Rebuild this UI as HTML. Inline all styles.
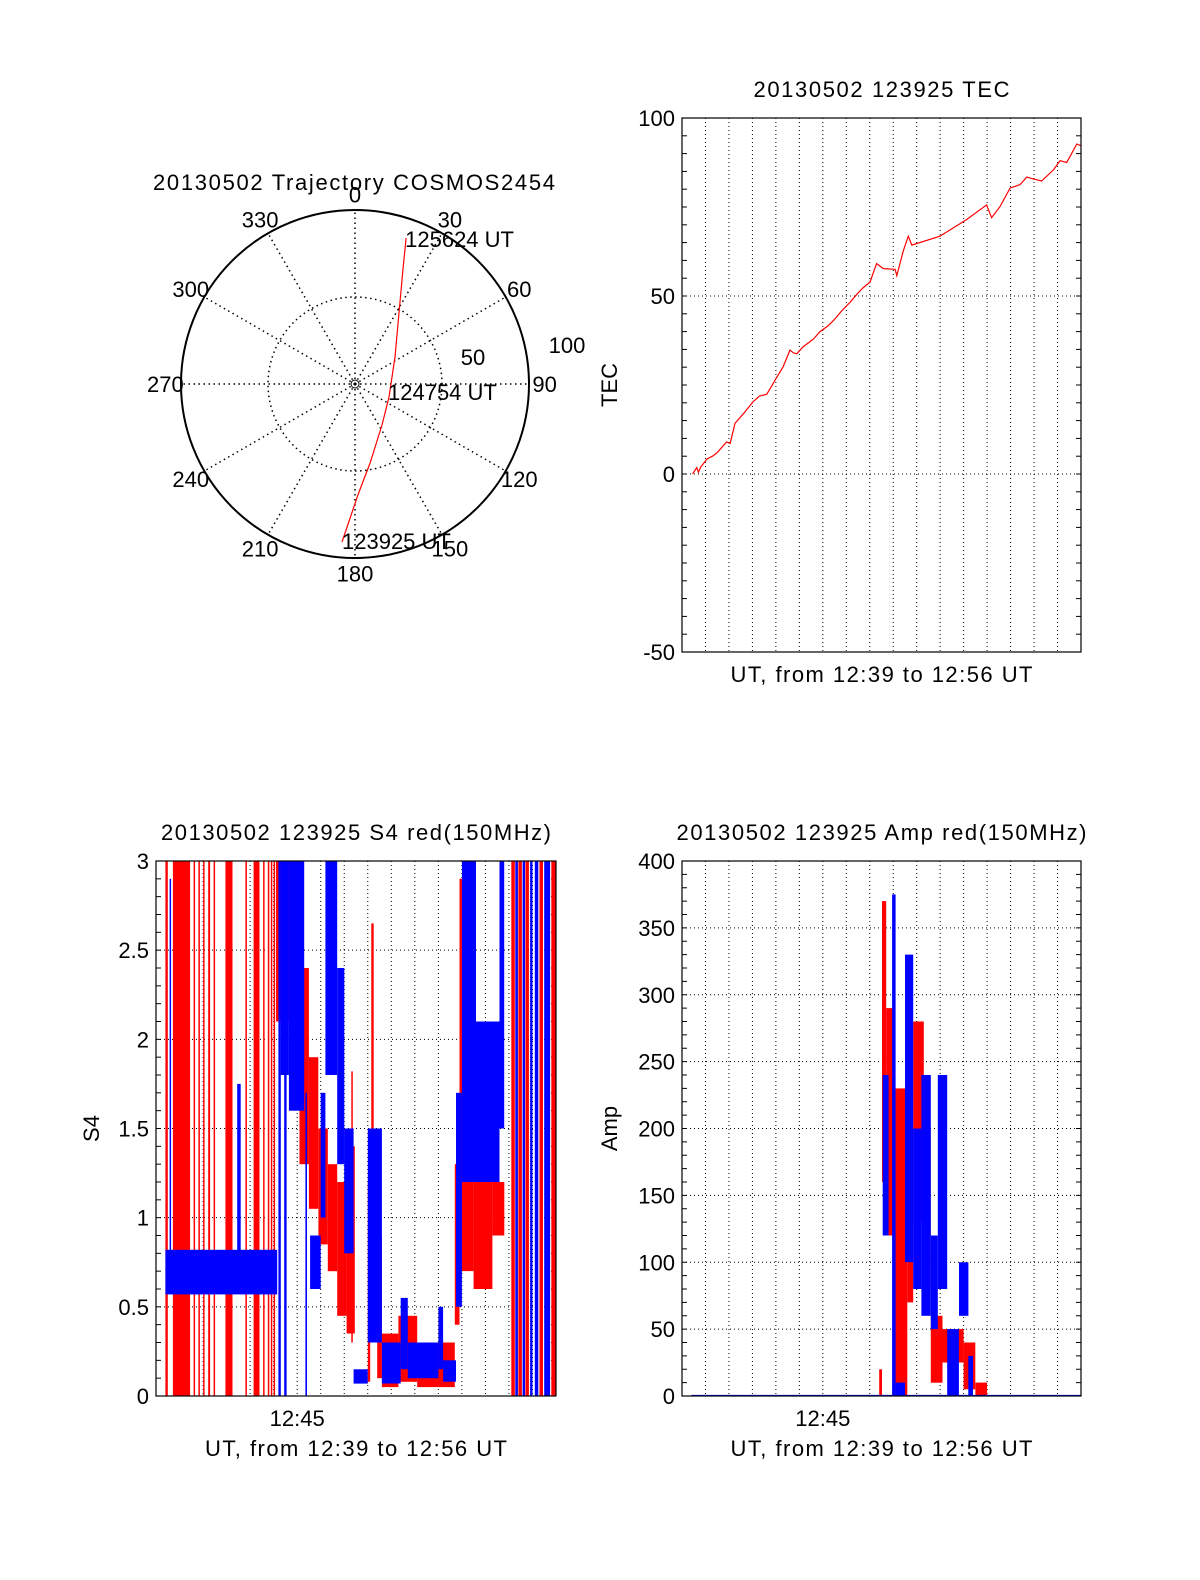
<!DOCTYPE html>
<html><head><meta charset="utf-8"><style>
body{margin:0;background:#fff}
svg text{font-family:"Liberation Sans",sans-serif;font-size:22px;fill:#000}
</style></head><body>
<svg id="fig" width="1200" height="1575" viewBox="0 0 1200 1575" xmlns="http://www.w3.org/2000/svg">
<rect width="1200" height="1575" fill="#fff"/>
<g id="polar"></g>
<g id="tec"></g>
<g id="s4"></g>
<g id="amp"></g>
</svg>
<script>
// ---- Polar trajectory data (azimuth deg, radial value) ----
const trajAz = [184.7,178.5,169.2,146.6,110.9,56.0,31.8,22.8,19.3];
const trajR  = [91.1,63.8,46.2,28.2,20.9,27.7,48.0,71.1,88.9];
const polarAngleLabels = ["0","30","60","90","120","150","180","210","240","270","300","330"];
// ---- TEC data (minutes after 12:39, TEC) ----
const tecT = [0.45,0.63,0.70,0.80,1.08,1.30,1.48,1.70,1.90,2.05,2.26,2.60,3.04,3.30,3.61,3.80,4.03,4.30,4.60,4.75,4.89,5.17,5.40,5.60,5.88,6.20,6.45,6.80,7.16,7.45,7.73,8.01,8.29,8.58,9.08,9.15,9.43,9.64,9.79,10.99,12.13,12.98,13.19,13.55,13.98,14.40,14.69,15.00,15.32,15.82,16.11,16.39,16.82,17.0];
const tecV = [0.0,1.8,0.5,2.0,4.3,5.0,5.9,7.5,9.0,8.6,14.2,16.8,20.4,21.9,22.4,24.5,27.1,30.0,34.8,34.0,33.8,35.8,36.9,37.9,40.0,41.5,43.1,45.8,48.2,50.5,52.4,53.9,59.1,57.7,57.5,55.7,62.7,66.8,64.3,66.8,71.5,75.6,72.0,75.1,80.3,81.3,83.4,82.8,82.3,85.4,88.0,87.5,92.7,92.2];
const tecTicks = [100,50,0,-50];
// ---- S4 bands (start min, end min, low, high) ----
const s4RedStart = [0.40,0.72,1.60,1.80,2.00,2.22,2.45,2.95,3.80,4.15,4.55,4.75,4.88,5.00,5.10,5.70,6.10,6.50,6.90,7.30,7.70,8.10,8.30,8.45,9.00,9.15,9.25,9.40,9.60,10.30,11.10,12.70,12.90,13.50,14.30,15.10,15.40,15.70,16.30,16.80];
const s4RedEnd   = [0.50,1.45,1.66,1.86,2.05,2.30,2.50,3.25,3.86,4.40,4.60,4.80,4.93,5.05,5.70,6.10,6.50,6.90,7.30,7.70,8.10,8.45,8.36,9.00,9.10,9.25,9.40,9.60,10.30,11.10,12.70,12.90,13.50,14.30,14.80,15.25,15.55,15.85,16.45,17.00];
const s4RedLo    = [0,0,0,0,0,0,0,0,0,0,0,0,0,0,2.1,1.7,1.3,1.05,0.85,0.7,0.45,0.35,0.3,0.07,0.08,0.3,0.35,0.1,0.05,0.08,0.05,0.4,0.7,0.6,0.9,0,0,0,0,0];
const s4RedHi    = [3,3,3,3,3,3,3,3,3,3,3,3,3,3,3,2.6,2.4,1.9,1.5,1.3,1.2,1.4,1.82,0.13,1.2,2.65,1.3,0.9,0.35,0.45,0.3,1.3,2.9,1.5,1.2,3,3,3,3,3];
const s4BlueStart = [0.40,0.58,3.45,5.20,5.30,5.45,5.65,6.35,6.55,7.00,7.20,7.70,8.00,8.40,9.00,9.60,10.40,10.70,12.00,12.20,12.75,13.00,13.60,14.60,15.27,15.58,15.90,16.10,16.50];
const s4BlueEnd   = [5.15,0.64,3.60,5.30,5.65,5.55,6.30,6.42,7.00,7.20,7.70,8.00,8.40,9.00,9.60,10.40,10.70,12.00,12.20,12.75,13.00,13.60,14.60,14.80,15.38,15.68,16.00,16.25,16.75];
const s4BlueLo    = [0.57,0.6,0.6,0,1.8,0,1.6,0,0.6,1.0,1.8,1.3,0.8,0.07,0.3,0.07,0.15,0.1,0.15,0.08,0.5,1.2,1.2,1.5,0,0,0,0,0];
const s4BlueHi    = [0.82,2.9,1.75,3,3,3,3,1.7,0.9,1.7,3,2.4,1.5,0.15,1.5,0.3,0.55,0.3,0.5,0.2,1.7,3,2.1,3,3,3,3,3,3];
const s4Ticks = ["0","0.5","1","1.5","2","2.5","3"];
// ---- Amp bands ----
const ampRedStart = [8.40,8.52,8.70,9.00,9.60,9.85,10.30,10.60,11.10,12.00,12.50];
const ampRedEnd   = [8.52,8.70,9.00,9.60,9.85,10.30,10.60,11.10,12.00,12.50,13.00];
const ampRedLo    = [0,160,120,0,70,130,80,10,25,5,0];
const ampRedHi    = [20,370,290,230,200,280,200,60,50,40,10];
const ampBlueStart = [8.55,8.95,9.10,9.50,9.85,10.20,10.60,10.90,11.30,11.80,12.20];
const ampBlueEnd   = [8.80,9.10,9.50,9.85,10.20,10.60,10.90,11.30,11.80,12.20,12.40];
const ampBlueLo    = [120,0,0,100,80,60,50,80,0,60,0];
const ampBlueHi    = [240,375,10,330,200,240,120,240,50,100,30];
const ampTicks = ["0","50","100","150","200","250","300","350","400"];

const NS="http://www.w3.org/2000/svg";
function mk(parent,tag,attrs,text){const e=document.createElementNS(NS,tag);for(const k in attrs)e.setAttribute(k,attrs[k]);if(text!==undefined)e.textContent=text;parent.appendChild(e);return e;}

// ===== Polar =====
const P=document.getElementById('polar');
const cx=355,cy=384,R=174,rs=R/100;
function px(az,r){return cx+r*rs*Math.sin(az*Math.PI/180);}
function py(az,r){return cy-r*rs*Math.cos(az*Math.PI/180);}
let t=mk(P,'text',{x:354,y:190,'text-anchor':'middle',textLength:402});t.textContent="20130502 Trajectory COSMOS2454";


for(let i=0;i<12;i++){
  const a=i*30;
  const l=mk(P,'line',{x1:cx,y1:cy,x2:px(a,100),y2:py(a,100),stroke:'#000','stroke-width':1.5,'stroke-dasharray':'1.5,3.5'});
  
  
  const lb=mk(P,'text',{x:px(a,109),y:py(a,109)+8,'text-anchor':'middle'},polarAngleLabels[i]);
  
  
}
let c=mk(P,'circle',{cx:cx,cy:cy,r:50*rs,fill:'none',stroke:'#000','stroke-width':1.5,'stroke-dasharray':'1.5,3.5'});


c=mk(P,'circle',{cx:cx,cy:cy,r:R,fill:'none',stroke:'#000','stroke-width':2});


c=mk(P,'circle',{cx:cx,cy:cy,r:4,fill:'none',stroke:'#000','stroke-width':1});


t=mk(P,'text',{x:473,y:365,'text-anchor':'middle'},"50");


t=mk(P,'text',{x:567,y:353,'text-anchor':'middle'},"100");


let pts=trajAz.map((a,i)=>px(a,trajR[i]).toFixed(1)+','+py(a,trajR[i]).toFixed(1)).join(' ');
let pl=mk(P,'polyline',{points:pts,fill:'none',stroke:'#f00','stroke-width':1.2});


const n=trajAz.length-1;
t=mk(P,'text',{x:px(trajAz[n],trajR[n])-1,y:py(trajAz[n],trajR[n])+9},"125624 UT");


t=mk(P,'text',{x:388,y:400},"124754 UT");


t=mk(P,'text',{x:px(trajAz[0],trajR[0]),y:py(trajAz[0],trajR[0])+7},"123925 UT");



// ===== Generic axes =====
function axes(G,o){
  const {x0,y0,w,h,vmin,vmax,minor,ticks,title,titleLen,ylabel,ylabelX,xlabelTick}=o;
  const yv=v=>y0+h-(v-vmin)/(vmax-vmin)*h;
  for(let m=1;m<17;m++){
    const x=x0+m*w/17;
    const g=mk(G,'line',{x1:x,y1:y0,x2:x,y2:y0+h,stroke:'#000','stroke-width':1,'stroke-dasharray':'1,3'});
    
    
  }
  ticks.forEach(tk=>{
    const v=parseFloat(tk),y=yv(v);
    if(v>vmin&&v<vmax){
      const g=mk(G,'line',{x1:x0,y1:y,x2:x0+w,y2:y,stroke:'#000','stroke-width':1,'stroke-dasharray':'1,3'});
      
      
    }
    const l=mk(G,'text',{x:x0-7,y:y+8,'text-anchor':'end'},tk);
    
    
  });
  for(let v=vmin;v<=vmax+1e-9;v+=minor){
    const y=yv(v);
    const a=mk(G,'line',{x1:x0,y1:y,x2:x0+5,y2:y,stroke:'#000','stroke-width':1});
    
    
    const b=mk(G,'line',{x1:x0+w-5,y1:y,x2:x0+w,y2:y,stroke:'#000','stroke-width':1});
    
    
  }
  let tt=mk(G,'text',{x:x0+w/2,y:y0-21,'text-anchor':'middle',textLength:titleLen},title);
  
  
  tt=mk(G,'text',{x:x0+w/2,y:y0+h+30+(xlabelTick?30:0),'text-anchor':'middle',textLength:302},"UT, from 12:39 to 12:56 UT");
  
  
  if(xlabelTick){
    tt=mk(G,'text',{x:x0+6*w/17,y:y0+h+30,'text-anchor':'middle'},"12:45");
    
    
  }
  const cyl=y0+h/2;
  tt=mk(G,'text',{x:ylabelX,y:cyl,'text-anchor':'middle',transform:`rotate(-90 ${ylabelX} ${cyl})`},ylabel);
  
  
  return yv;
}
function frame(G,x0,y0,w,h){
  const r=mk(G,'rect',{x:x0,y:y0,width:w,height:h,fill:'none',stroke:'#000','stroke-width':1.2});
  
  
}
function bands(G,xf,yf,st,en,lo,hi,color,name){
  for(let i=0;i<st.length;i++){
    const x1=xf(st[i]),x2=xf(en[i]);
    const y1=yf(hi[i]),y2=yf(lo[i]);
    const r=mk(G,'rect',{x:x1.toFixed(1),y:y1.toFixed(1),width:Math.max(1.5,x2-x1).toFixed(1),height:Math.max(1.5,y2-y1).toFixed(1),fill:color});
    
    
  }
}

// ===== TEC =====
const T=document.getElementById('tec');
const tx=m=>682+m*399/17;
const ty=axes(T,{x0:682,y0:118,w:399,h:534,vmin:-50,vmax:100,minor:5,ticks:tecTicks.map(String),title:"20130502 123925 TEC",titleLen:256,ylabel:"TEC",ylabelX:617,xlabelTick:false});
pl=mk(T,'polyline',{points:tecT.map((m,i)=>tx(m).toFixed(1)+','+ty(tecV[i]).toFixed(1)).join(' '),fill:'none',stroke:'#f00','stroke-width':1.2});


frame(T,682,118,399,534);

// ===== S4 =====
const S=document.getElementById('s4');
const sx=m=>156+m*400/17;
const sy=axes(S,{x0:156,y0:861,w:400,h:535,vmin:0,vmax:3,minor:0.1,ticks:s4Ticks,title:"20130502 123925 S4 red(150MHz)",titleLen:390,ylabel:"S4",ylabelX:99,xlabelTick:true});
bands(S,sx,sy,s4RedStart,s4RedEnd,s4RedLo,s4RedHi,'#f00','s4-red-series');
bands(S,sx,sy,s4BlueStart,s4BlueEnd,s4BlueLo,s4BlueHi,'#00f','s4-blue-series');
frame(S,156,861,400,535);

// ===== Amp =====
const A=document.getElementById('amp');
const ax=m=>682+m*399/17;
const ay=axes(A,{x0:682,y0:861,w:399,h:535,vmin:0,vmax:400,minor:10,ticks:ampTicks,title:"20130502 123925 Amp red(150MHz)",titleLen:410,ylabel:"Amp",ylabelX:617,xlabelTick:true});
bands(A,ax,ay,ampRedStart,ampRedEnd,ampRedLo,ampRedHi,'#f00','amp-red-series');
bands(A,ax,ay,ampBlueStart,ampBlueEnd,ampBlueLo,ampBlueHi,'#00f','amp-blue-series');
let bl=mk(A,'line',{x1:ax(0.4),y1:ay(0)-0.5,x2:ax(17),y2:ay(0)-0.5,stroke:'#00f','stroke-width':1.2});


frame(A,682,861,399,535);
</script>
</body></html>
